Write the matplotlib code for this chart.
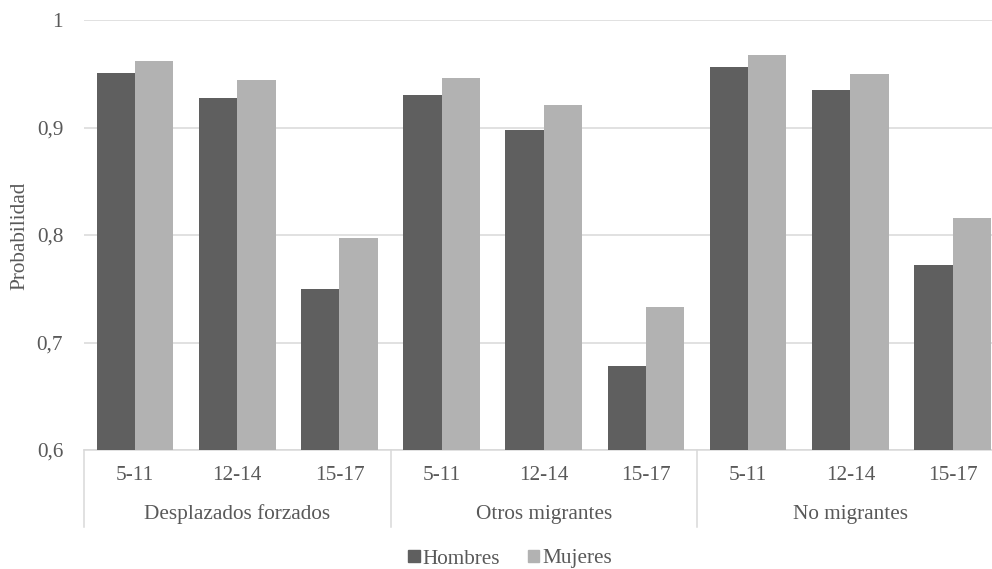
import numpy as np
import matplotlib.pyplot as plt
from matplotlib.patches import Patch
import matplotlib.transforms as mtransforms

grupos = ["Desplazados forzados", "Otros migrantes", "No migrantes"]
edades = ["5-11", "12-14", "15-17"]
hombres = [0.951, 0.927, 0.750, 0.930, 0.898, 0.678, 0.956, 0.935, 0.772]
mujeres = [0.962, 0.944, 0.797, 0.946, 0.921, 0.733, 0.967, 0.950, 0.816]
yticks = [0.6, 0.7, 0.8, 0.9, 1.0]
ytick_labels = ["0,6", "0,7", "0,8", "0,9", "1"]

gris_texto = "#595959"
gris_linea = "#d9d9d9"
plt.rcParams['font.family'] = ['Liberation Serif', 'DejaVu Serif']
plt.rcParams['font.size'] = 15.3

fig = plt.figure(figsize=(9.92, 5.69), dpi=100)
# the axes run a bit past the right border, like the exported chart
ax = fig.add_axes([84/992, 119/569, 919.6/992, 430/569])

x = np.arange(len(hombres))
w = 0.375
ax.bar(x - w/2, hombres, w, color="#5f5f5f", zorder=3)
ax.bar(x + w/2, mujeres, w, color="#b2b2b2", zorder=3)

ax.set_xlim(-0.5, len(hombres) - 0.5)
ax.set_ylim(0.6, 1.0)
ax.set_yticks(yticks)
ax.set_yticklabels(ytick_labels, color=gris_texto)
ax.tick_params(axis='y', length=0, pad=15)
ax.set_xticks([])
ax.yaxis.grid(True, color=gris_linea, lw=1.1, zorder=0)
for s in ['top', 'right', 'left']:
	ax.spines[s].set_visible(False)
ax.spines['bottom'].set_color(gris_linea)
ax.spines['bottom'].set_linewidth(1.1)

# two-level category axis
trans = mtransforms.blended_transform_factory(ax.transData, ax.transAxes)
for i in range(len(hombres)):
	ax.text(x[i], -25/430, edades[i % 3], transform=trans, ha='center', va='center', color=gris_texto)
for g, nombre in enumerate(grupos):
	ax.text(g*3 + 1, -64/430, nombre, transform=trans, ha='center', va='center', color=gris_texto)
for g in range(len(grupos) + 1):
	ax.plot([g*3 - 0.5, g*3 - 0.5], [0, -77/430], transform=trans, color=gris_linea, lw=1.1, clip_on=False)

fig.text(20/992, 1 - 236/569, "Probabilidad", rotation=90, ha='center', va='center', color=gris_texto)

handles = [Patch(color="#5f5f5f", label="Hombres"), Patch(color="#b2b2b2", label="Mujeres")]
leg = fig.legend(handles=handles, loc='center', bbox_to_anchor=(510/992, 1 - 559/569), ncol=2,
	frameon=False, handlelength=0.55, handleheight=0.55, handletextpad=0.12, columnspacing=1.3)
for t in leg.get_texts():
	t.set_color(gris_texto)

plt.savefig("out.png", dpi=100)
